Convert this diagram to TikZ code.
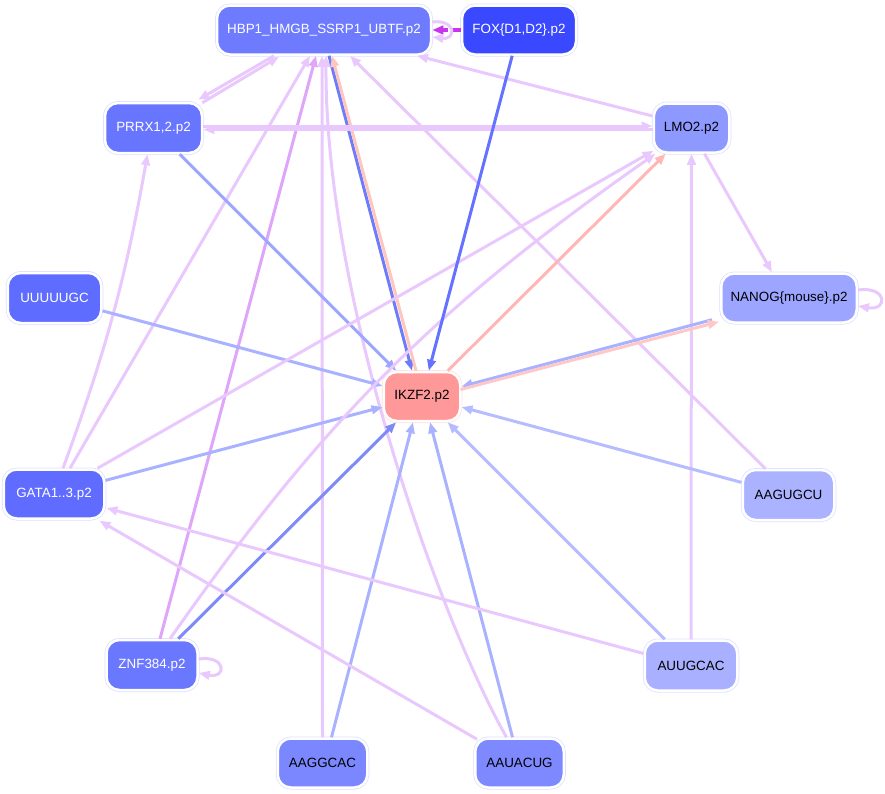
\documentclass[tikz,border=0pt]{standalone}
\usepackage{fontspec}
\setmainfont{Liberation Sans}
\usetikzlibrary{arrows.meta,calc}
\definecolor{cLP}{HTML}{E9C9FD}
\definecolor{cMP}{HTML}{DEA5FA}
\definecolor{cLB}{HTML}{A9B2FF}
\definecolor{cLBb}{HTML}{B5BCFF}
\definecolor{cMB}{HTML}{9EA7FF}
\definecolor{cBa}{HTML}{7E8AF6}
\definecolor{cBb}{HTML}{6E7DF7}
\definecolor{cBc}{HTML}{6472FF}
\definecolor{cPk}{HTML}{FFB6B6}
\definecolor{cPkb}{HTML}{FFC6C0}
\definecolor{cPkc}{HTML}{FFC8C8}
\definecolor{cMag}{HTML}{CC33EE}
\definecolor{ringB}{HTML}{DCE0FF}
\definecolor{ringP}{HTML}{FFE0E0}
\definecolor{fHBP}{HTML}{6E7BFF}
\definecolor{fFOX}{HTML}{3A48FF}
\definecolor{fPRRX}{HTML}{6875FF}
\definecolor{fLMO}{HTML}{8E99FF}
\definecolor{fUUU}{HTML}{5E6CFF}
\definecolor{fNANOG}{HTML}{9CA5FF}
\definecolor{fIKZF}{HTML}{FF9999}
\definecolor{fGATA}{HTML}{5F6CFF}
\definecolor{fAAGUGCU}{HTML}{ABB2FF}
\definecolor{fZNF}{HTML}{6A77FF}
\definecolor{fAUUGCAC}{HTML}{A9B0FF}
\definecolor{fAAGGCAC}{HTML}{7B87FF}
\definecolor{fAAUACUG}{HTML}{7E89FF}
\begin{document}
\begin{tikzpicture}[x=1pt,y=-1pt,
  nd/.style={rounded corners=13pt, inner sep=0pt, minimum height=49pt,
    draw=white, line width=2.5pt, font=\fontsize{13.4}{15}\selectfont},
  ring/.style={preaction={draw=#1, line width=4pt}},
  e/.style={line width=3pt, -{Triangle[length=11pt,width=8.5pt]}}]
\useasboundingbox (0,0) rectangle (885,793);
% nodes
\node[nd, ring=ringB, fill=fHBP, text=white, minimum width=214pt] (hbp) at (324,30) {HBP1\_HMGB\_SSRP1\_UBTF.p2};
\node[nd, ring=ringB, fill=fFOX, text=white, minimum width=114pt] (fox) at (519,30) {FOX\{D1,D2\}.p2};
\node[nd, ring=ringB, fill=fPRRX, text=white, minimum width=97pt, minimum height=50pt] (prrx) at (153.5,128) {PRRX1,2.p2};
\node[nd, ring=ringB, fill=fLMO, text=black, minimum width=75.5pt] (lmo) at (691.5,128) {LMO2.p2};
\node[nd, ring=ringB, fill=fUUU, text=white, minimum width=93.5pt, minimum height=50pt] (uuu) at (54.5,298) {UUUUUGC};
\node[nd, ring=ringB, fill=fNANOG, text=black, minimum width=135.5pt] (nanog) at (789,298) {NANOG\{mouse\}.p2};
\node[nd, ring=ringP, fill=fIKZF, text=black, minimum width=76.5pt] (ikzf) at (422,396.5) {IKZF2.p2};
\node[nd, ring=ringB, fill=fGATA, text=white, minimum width=100.5pt] (gata) at (54,494) {GATA1..3.p2};
\node[nd, ring=ringB, fill=fAAGUGCU, text=black, minimum width=91.5pt, minimum height=50pt] (aagugcu) at (788.5,495) {AAGUGCU};
\node[nd, ring=ringB, fill=fZNF, text=white, minimum width=91pt, minimum height=50pt] (znf) at (152,665) {ZNF384.p2};
\node[nd, ring=ringB, fill=fAUUGCAC, text=black, minimum width=92.5pt, minimum height=50pt] (auugcac) at (691,665.5) {AUUGCAC};
\node[nd, ring=ringB, fill=fAAGGCAC, text=black, minimum width=89.5pt] (aaggcac) at (322.5,763) {AAGGCAC};
\node[nd, ring=ringB, fill=fAAUACUG, text=black, minimum width=88.5pt] (aauacug) at (519.5,763) {AAUACUG};
% edges around HBP1
\draw[e,cLP] ($(hbp.south)+(-50,0)$) -- ($(prrx.north east)+(-5,-2)$);
\draw[e,cLP] ($(prrx.north east)+(-1,1)$) -- ($(hbp.south)+(-45,1)$);
\draw[e,cLP] ($(lmo.west)+(0,-12)$) -- ($(hbp.south)+(93,0)$);
\draw[e,cMag,line width=3.4pt,dash pattern=on 10pt off 3pt] (fox.west) -- (hbp.east);
\draw[e,cLP] ($(hbp.east)+(0,-8)$) .. controls +(24,-3) and +(24,3) .. ($(hbp.east)+(0,7)$);
\draw[e,cLP] (aaggcac.north) -- ($(hbp.south)+(-2,0)$);
\draw[e,cLP] ($(gata.north)+(16,0)$) -- ($(hbp.south)+(-14,0)$);
\draw[e,cMP] ($(znf.north)+(8,0)$) -- ($(hbp.south)+(-8,0)$);
\draw[e,cLP] ($(aauacug.north)+(-13,0)$) .. controls (440,620) and (325,300) .. ($(hbp.south)+(2,0)$);
\draw[e,cLP] ($(aagugcu.north)+(-23,0)$) -- ($(hbp.south)+(26,0)$);
\draw[e,cBb] ($(hbp.south)+(5,0)$) -- ($(ikzf.north)+(-10,0)$);
\draw[e,cPkb] ($(ikzf.north)+(-6,0)$) -- ($(hbp.south)+(8,0)$);
% PRRX1 / LMO2
\draw[e,cLP] ($(prrx.east)+(0,-2)$) -- ($(lmo.west)+(0,-2)$);
\draw[e,cLP] ($(lmo.west)+(0,1.5)$) -- ($(prrx.east)+(0,1.5)$);
\draw[e,cMB] (prrx) -- (ikzf);
\draw[e,cLP] ($(gata.north)+(9,0)$) to[bend right=5] ($(prrx.south)+(-6,0)$);
\draw[e,cLB] (uuu) -- (ikzf);
\draw[e,cLB] (gata) -- (ikzf);
\draw[e,cLP] ($(gata.north east)+(-8,0)$) -- ($(lmo.south west)+(1,-3)$);
\draw[e,cLP] ($(znf.north)+(18,0)$) to[bend left=10] ($(lmo.south west)+(3,0)$);
\draw[e,cPk] (ikzf) -- (lmo);
\draw[e,cLP] (auugcac.north) -- (lmo.south);
\draw[e,cLP] ($(lmo.south)+(13,0)$) -- ($(nanog.north)+(-17,0)$);
\draw[e,cLP] ($(nanog.east)+(0,-8)$) .. controls +(30,-4) and +(30,5) .. ($(nanog.east)+(0,8)$);
\draw[e,cLB] ($(nanog.south west)+(-8,-4)$) -- ($(ikzf.east)+(0,-10)$);
\draw[e,cPkc] ($(ikzf.east)+(-1,-7)$) -- ($(nanog.south west)+(-1,-2)$);
% into IKZF2
\draw[e,cBc] (fox) -- (ikzf);
\draw[e,cLB] ($(aaggcac.north)+(9,0)$) -- ($(ikzf.south)+(-9,0)$);
\draw[e,cLB] ($(aauacug.north)+(-7,0)$) -- ($(ikzf.south)+(8,0)$);
\draw[e,cLBb] (auugcac) -- (ikzf);
\draw[e,cLBb] (aagugcu) -- (ikzf);
\draw[e,cBa] (znf) -- (ikzf);
\draw[e,cLP] ($(znf.east)+(0,-6)$) .. controls +(28,-4) and +(28,6) .. ($(znf.east)+(0,8)$);
% into GATA
\draw[e,cLP] ($(auugcac.west)+(0,-12)$) -- ($(gata.east)+(1,14)$);
\draw[e,cLP] ($(aauacug.north west)+(3,2)$) -- ($(gata.south east)+(-6,1)$);
\end{tikzpicture}
\end{document}
